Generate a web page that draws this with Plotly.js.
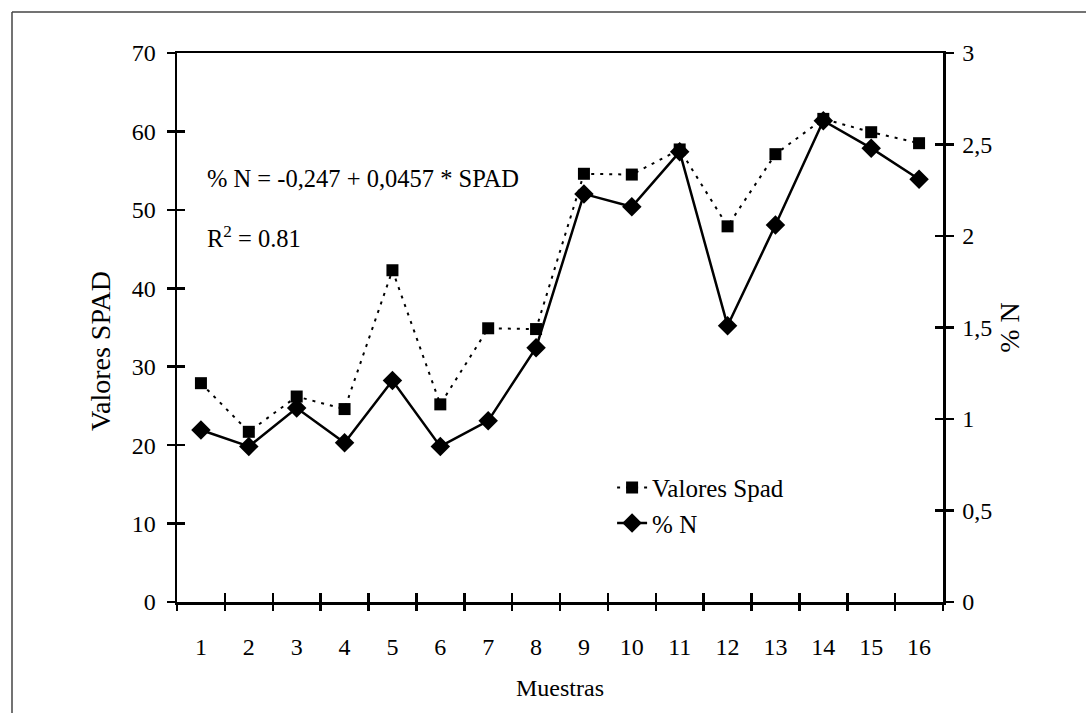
<!DOCTYPE html>
<html>
<head>
<meta charset="utf-8">
<script src="https://cdn.plot.ly/plotly-3.0.1.min.js"></script>
<style>
  html, body { margin: 0; padding: 0; background: #ffffff; }
  #chart { width: 1086px; height: 713px; }
</style>
</head>
<body>
<div id="chart"></div>
<script>
// ---- data ----
const muestras = [1, 2, 3, 4, 5, 6, 7, 8, 9, 10, 11, 12, 13, 14, 15, 16];
const muestrasLabels = ["1", "2", "3", "4", "5", "6", "7", "8", "9", "10", "11", "12", "13", "14", "15", "16"];
const valoresSpad = [27.9, 21.7, 26.2, 24.6, 42.3, 25.2, 34.9, 34.8, 54.6, 54.5, 57.7, 47.9, 57.1, 61.6, 59.9, 58.5];
const porcentajeN = [0.94, 0.85, 1.06, 0.87, 1.21, 0.85, 0.99, 1.39, 2.23, 2.16, 2.46, 1.51, 2.06, 2.63, 2.48, 2.31];
const spadTicks = [0, 10, 20, 30, 40, 50, 60, 70];
const nTickVals = [0, 0.5, 1, 1.5, 2, 2.5, 3];
const nTickText = ["0", "0,5", "1", "1,5", "2", "2,5", "3"];
const seriesNames = ["Valores Spad", "% N"];
const xTitle = "Muestras";
const yTitle = "Valores SPAD";
const y2Title = "% N";
const equationText = "% N = -0,247 + 0,0457 * SPAD";
const r2Text = "R<sup>2</sup> = 0.81";

// boundaries between samples (tick marks)
const boundaries = [];
for (let i = 0; i <= muestras.length; i++) boundaries.push(muestras[0] - 0.5 + i);

const FONT = "Liberation Serif";
const xRange = [muestras[0] - 0.5, muestras[muestras.length - 1] + 0.5];

const traces = [
  {
    x: muestras, y: valoresSpad, name: seriesNames[0],
    type: "scatter", mode: "lines+markers",
    xaxis: "x", yaxis: "y",
    line: { color: "#000", width: 2, dash: "3px,6px" },
    marker: { symbol: "square", size: 12, color: "#000" }
  },
  {
    x: muestras, y: porcentajeN, name: seriesNames[1],
    type: "scatter", mode: "lines+markers",
    xaxis: "x", yaxis: "y2",
    line: { color: "#000", width: 2.5 },
    marker: { symbol: "diamond", size: 15, color: "#000" }
  },
  // empty carriers so that the tick-only helper axes get drawn
  { x: [], y: [], xaxis: "x2", yaxis: "y", type: "scatter", mode: "lines", showlegend: false, hoverinfo: "skip" },
  { x: [], y: [], xaxis: "x3", yaxis: "y", type: "scatter", mode: "lines", showlegend: false, hoverinfo: "skip" },
  { x: [], y: [], xaxis: "x", yaxis: "y3", type: "scatter", mode: "lines", showlegend: false, hoverinfo: "skip" },
  { x: [], y: [], xaxis: "x", yaxis: "y4", type: "scatter", mode: "lines", showlegend: false, hoverinfo: "skip" }
];

const axLine = { showline: true, linecolor: "#000", linewidth: 2.5 };
const tickOnly = { showticklabels: false, showgrid: false, zeroline: false, showline: false,
                   tickwidth: 2.5, tickcolor: "#000", tickmode: "array" };

const layout = {
  width: 1086, height: 713,
  margin: { l: 177, r: 143, t: 53, b: 111 },
  paper_bgcolor: "#fff", plot_bgcolor: "#fff",
  font: { family: FONT, size: 24, color: "#000" },
  showlegend: true,
  legend: {
    x: 0.568, y: 0.25, xanchor: "left", yanchor: "top",
    bgcolor: "rgba(0,0,0,0)", borderwidth: 0,
    font: { family: FONT, size: 25, color: "#000" },
    tracegroupgap: 0
  },
  xaxis: Object.assign({}, axLine, {
    range: xRange, tickmode: "array", tickvals: muestras, ticktext: muestrasLabels,
    ticks: "", showgrid: false, zeroline: false, mirror: true,
    ticklabelstandoff: 22, tickfont: { family: FONT, size: 24 },
    title: { text: xTitle, standoff: 20, font: { family: FONT, size: 24 } }
  }),
  xaxis2: Object.assign({}, tickOnly, {
    overlaying: "x", anchor: "y", range: xRange, tickvals: boundaries,
    ticks: "inside", ticklen: 9
  }),
  xaxis3: Object.assign({}, tickOnly, {
    overlaying: "x", anchor: "y", range: xRange, tickvals: boundaries,
    ticks: "outside", ticklen: 8
  }),
  yaxis: Object.assign({}, axLine, {
    range: [0, 70], tickmode: "array", tickvals: spadTicks,
    ticks: "outside", ticklen: 8, tickwidth: 2.5, tickcolor: "#000",
    showgrid: false, zeroline: false, ticklabelstandoff: 6,
    tickfont: { family: FONT, size: 24 }
  }),
  yaxis3: Object.assign({}, tickOnly, {
    overlaying: "y", anchor: "x", side: "left", range: [0, 70], tickvals: spadTicks,
    ticks: "inside", ticklen: 8
  }),
  yaxis2: Object.assign({}, axLine, {
    overlaying: "y", anchor: "x", side: "right", range: [0, 3],
    tickmode: "array", tickvals: nTickVals, ticktext: nTickText,
    ticks: "outside", ticklen: 8, tickwidth: 2.5, tickcolor: "#000",
    showgrid: false, zeroline: false, ticklabelstandoff: 4,
    tickfont: { family: FONT, size: 24 },
    title: { text: y2Title, standoff: 8, font: { family: FONT, size: 28 } }
  }),
  yaxis4: Object.assign({}, tickOnly, {
    overlaying: "y", anchor: "x", side: "right", range: [0, 3], tickvals: nTickVals,
    ticks: "inside", ticklen: 8
  }),
  annotations: [
    { xref: "paper", yref: "paper", x: -0.1005, y: 0.457, xanchor: "center", yanchor: "middle",
      textangle: -90, text: yTitle, showarrow: false, font: { family: FONT, size: 28, color: "#000" } },
    { xref: "paper", yref: "paper", x: 0.037, y: 0.772, xanchor: "left", yanchor: "middle",
      text: equationText, showarrow: false, font: { family: FONT, size: 24.5, color: "#000" } },
    { xref: "paper", yref: "paper", x: 0.037, y: 0.665, xanchor: "left", yanchor: "middle",
      text: r2Text, showarrow: false, font: { family: FONT, size: 24.5, color: "#000" } }
  ],
  shapes: [
    { type: "line", xref: "paper", yref: "paper", x0: -0.2154, x1: 1.19, y0: 1.0747, y1: 1.0747,
      line: { color: "#444", width: 1.5 } },
    { type: "line", xref: "paper", yref: "paper", x0: -0.2154, x1: -0.2154, y0: 1.0747, y1: -0.21,
      line: { color: "#444", width: 1.5 } }
  ]
};

Plotly.newPlot("chart", traces, layout, { displayModeBar: false, staticPlot: true });
</script>
</body>
</html>
